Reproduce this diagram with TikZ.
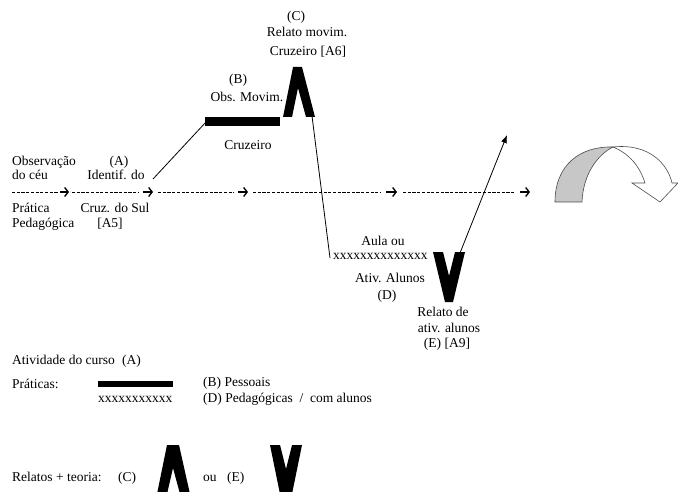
\documentclass[tikz,border=0pt]{standalone}
\usepackage{fontspec}
\setmainfont{Liberation Serif}
\usetikzlibrary{arrows.meta}
\begin{document}
\begin{tikzpicture}[x=1pt,y=-1pt,
  txt/.style={inner sep=0pt, font=\fontsize{13.5}{16}\selectfont},
  lt/.style={txt, anchor=base west},
  ct/.style={txt, anchor=base},
  dashrow/.style={line width=0.8pt, dash pattern=on 3.2pt off 1.5pt},
  arr/.style={line width=1.3pt, -{Straight Barb[length=3.5pt,width=9pt,line width=1.3pt]}},
  thinline/.style={line width=0.8pt},
  blk/.style={fill=black, draw=none},
  ribbon/.style={draw=black!70, line width=0.6pt}]
\useasboundingbox (0,0) rectangle (678,492);
\clip (0,0) rectangle (678,492);

% ---- texts of the main diagram ----
\node[lt] (obs) at (12,166) {Observação};
\node[lt] (ceu) at (12,180) {do céu};
\node[ct] (a1) at (119,166) {(A)};
\node[ct] (idf) at (116,180) {Identif. do};
\node[lt] (prat) at (12,212) {Prática};
\node[lt] (ped) at (12,227) {Pedagógica};
\node[ct] (cruz) at (115,212) {Cruz. do Sul};
\node[ct] (a5) at (110,227) {[A5]};
\node[ct] (b) at (238,84) {(B)};
\node[ct] (obsm) at (247,102) {Obs. Movim.};
\node[ct] (cruzeiro) at (248,150) {Cruzeiro};
\node[ct] (c) at (296,21) {(C)};
\node[ct] (relm) at (307,37) {Relato movim.};
\node[ct] (cra6) at (308,56) {Cruzeiro [A6]};
\node[ct] (aula) at (383,246) {Aula ou};
\node[lt] (xx1) at (333,259) {xxxxxxxxxxxxxx};
\node[ct] (ativ) at (390,282) {Ativ. Alunos};
\node[ct] (d) at (387,299) {(D)};
\node[ct] (relde) at (443,316) {Relato de};
\node[ct] (atival) at (449,332) {ativ. alunos};
\node[ct] (ea9) at (447,347) {(E) [A9]};

% ---- legend texts ----
\node[lt] (atc) at (12,364) {Atividade do curso};
\node[lt] (aleg) at (122,364) {(A)};
\node[lt] (prs) at (12,388) {Práticas:};
\node[lt] (xx2) at (98,402) {xxxxxxxxxxx};
\node[lt] (bp) at (203,386) {(B) Pessoais};
\node[lt] (dp) at (203,402) {(D) Pedagógicas~~/~~com alunos};
\node[lt] (rt) at (12,481) {Relatos + teoria:};
\node[lt] (cleg) at (118,481) {(C)};
\node[lt] (ou) at (203,481) {ou};
\node[lt] (eleg) at (227,481) {(E)};

% ---- dashed timeline ----
\draw[dashrow] (12,192) -- (58,192);   \draw[arr] (60,192) -- (69,192);
\draw[dashrow] (72,192) -- (138,192);  \draw[arr] (143,192) -- (153,192);
\draw[dashrow] (158,192) -- (234,192); \draw[arr] (238,192) -- (248,192);
\draw[dashrow] (253,192) -- (380,192); \draw[arr] (386,192) -- (397,192);
\draw[dashrow] (403,192) -- (515,192); \draw[arr] (520,192) -- (530,192);

% ---- black marks ----
\fill[blk] (205,117) rectangle (280,126);
\coordinate (barL) at (206,122);
\fill[blk] (283,117) -- (292,117) -- (298,88) -- (306,117) -- (315,117) -- (302,67) -- (293,67) -- cycle;
\coordinate (lamR) at (312,116);
\fill[blk] (433,252) -- (443,252) -- (449,276) -- (455,252) -- (465,252) -- (453,302) -- (445,302) -- cycle;
\coordinate (vR) at (460,253);

% legend marks
\fill[blk] (98,381) rectangle (173,387);
\fill[blk] (157,494) -- (167,494) -- (173,468) -- (180,494) -- (190,494) -- (179,445) -- (167,445) -- cycle;
\fill[blk] (270,445) -- (280,445) -- (286,469) -- (292,445) -- (302,445) -- (292,494) -- (280,494) -- cycle;

% ---- thin connectors ----
\coordinate (idfE) at (153,179);
\coordinate (xL) at (330,258);
\coordinate (tip) at (507,135);
\draw[thinline] (idfE) -- (barL);
\draw[thinline] (lamR) -- (xL);
\draw[thinline, -{Latex[length=8pt,width=6pt]}] (vR) -- (tip);

% ---- curved ribbon arrow ----
\filldraw[ribbon, fill=black!22] (555,202) .. controls (555,165) and (580,146) .. (613,147)
  .. controls (597,155) and (583,175) .. (582,202) -- cycle;
\filldraw[ribbon, fill=white] (613,147) .. controls (650,143) and (668,165) .. (672,183)
  -- (678,183) -- (660,202) -- (632,183) -- (645,183)
  .. controls (640,167) and (630,154) .. (613,147) -- cycle;
\end{tikzpicture}
\end{document}
